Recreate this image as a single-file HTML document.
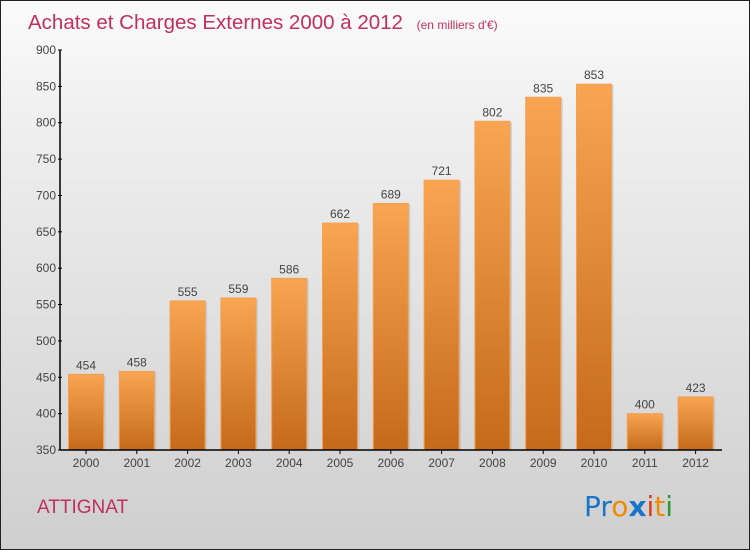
<!DOCTYPE html>
<html><head><meta charset="utf-8"><style>
body{margin:0}
#c{position:relative;width:748px;height:548px;border:1px solid #222;background:linear-gradient(#fbfbfb,#f0f0f0 20%,#cfcfcf);font-family:"Liberation Sans",sans-serif;overflow:hidden}
</style></head><body>
<div id="c">
<svg id="s" width="748" height="548" style="position:absolute;left:0;top:0">
<defs>
<linearGradient id="g" x1="0" y1="0" x2="0" y2="1"><stop offset="0" stop-color="#f9a552"/><stop offset="1" stop-color="#c56a1a"/></linearGradient>
</defs>
<text x="27" y="28" font-size="20.5" fill="#c0305e">Achats et Charges Externes 2000 à 2012 <tspan font-size="12" dx="8">(en milliers d'€)</tspan></text>
<text x="36" y="512" font-size="19" fill="#c0305e">ATTIGNAT</text>
<g font-size="28" font-family="'DejaVu Sans',sans-serif">
<text x="583" y="515"><tspan fill="#1a74c8">Pr</tspan><tspan fill="#f08a00">o</tspan><tspan fill="#1a74c8" font-weight="bold">x</tspan><tspan fill="#e03a1a">i</tspan><tspan fill="#f08a00">t</tspan><tspan fill="#2a9a3a">i</tspan></text>
</g>
<g id="plot"></g>
</svg>
</div>
<script>
const categories=["2000","2001","2002","2003","2004","2005","2006","2007","2008","2009","2010","2011","2012"];
const values=[454,458,555,559,586,662,689,721,802,835,853,400,423];
const yTicks=[350,400,450,500,550,600,650,700,750,800,850,900];
const NS="http://www.w3.org/2000/svg";
const X0=59,Y0=449,YT=49,STEP=50.8,BW=35;
const y=v=>Y0-(v-350)*(Y0-YT)/550;
const xc=i=>X0+STEP*i+26;
const g=document.getElementById('plot');
function mk(t,a){const e=document.createElementNS(NS,t);for(const k in a)e.setAttribute(k,a[k]);g.appendChild(e);return e;}
values.forEach((v,i)=>{
 const sh=mk('rect',{x:xc(i)-BW/2+2,y:y(v)+1,width:BW,height:Y0-y(v)-1,fill:'#bbb',opacity:0.6});
 
 
 const r=mk('rect',{x:xc(i)-BW/2,y:y(v),width:BW,height:Y0-y(v),fill:'url(#g)',stroke:'#f4a050','stroke-width':1});
 
 
 const t=mk('text',{x:xc(i),y:y(v)-5,'font-size':12,fill:'#444','text-anchor':'middle'});t.textContent=v;
 
 
 const xl=mk('text',{x:xc(i),y:Y0+17,'font-size':12,fill:'#444','text-anchor':'middle'});xl.textContent=categories[i];
 
 
 const tk=mk('line',{x1:xc(i),x2:xc(i),y1:Y0,y2:Y0+4,stroke:'#000'});
 
 
});
yTicks.forEach(v=>{
 const t=mk('text',{x:X0-4,y:y(v)+4,'font-size':12,fill:'#444','text-anchor':'end'});t.textContent=v;
 
 
 const l=mk('line',{x1:X0-2,x2:X0+2,y1:y(v),y2:y(v),stroke:'#000'});
 
 
});
const ya=mk('line',{x1:X0,x2:X0,y1:YT,y2:Y0,stroke:'#000','stroke-width':1.5});


const xa=mk('line',{x1:X0,x2:721,y1:Y0,y2:Y0,stroke:'#000','stroke-width':1.5});


</script>
</body></html>
